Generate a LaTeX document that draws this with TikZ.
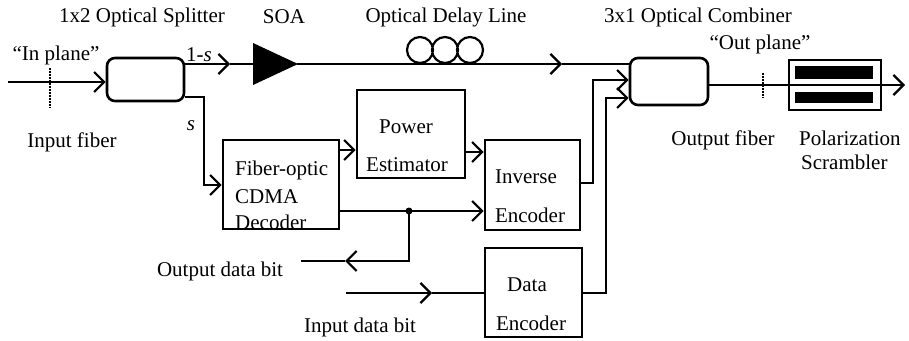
\documentclass[tikz,border=0pt]{standalone}
\usepackage{fontspec}
\setmainfont{Liberation Serif}
\usetikzlibrary{arrows.meta}
\newcommand{\fsz}{\fontsize{21}{24}\selectfont}
\tikzset{
  ln/.style={line width=2.6pt},
  arr/.style={ln, -{Straight Barb[length=10pt,width=20pt,line width=2.2pt]}},
  box/.style={draw, line width=2.6pt, inner sep=0pt},
  rbox/.style={box, rounded corners=8pt},
  lbl/.style={inner sep=0pt, font=\fsz},
  dots/.style={line width=2.2pt, dash pattern=on 1.5pt off 1.5pt},
}
\begin{document}
\begin{tikzpicture}[x=1pt,y=-1pt]
\useasboundingbox (0,0) rectangle (909,340);
% boxes
\node[rbox, minimum width=77pt, minimum height=43pt] (spl) at (145.5,79.5) {};
\node[rbox, minimum width=78pt, minimum height=47pt] (comb) at (669,81.5) {};
\node[box, minimum width=116pt, minimum height=89pt] (dec) at (281,184.5) {};
\node[box, minimum width=108pt, minimum height=88pt] (pw) at (411,134) {};
\node[box, minimum width=95pt, minimum height=90pt] (inv) at (532.5,185) {};
\node[box, minimum width=97pt, minimum height=89pt] (den) at (533.5,292.5) {};
\node[box, minimum width=92pt, minimum height=50pt] (scr) at (835,85) {};
% scrambler bars
\fill (795,66) rectangle (873,79);
\fill (795,92) rectangle (873,103);
% SOA
\fill (253,43) -- (253,85) -- (298,64) -- cycle;
\coordinate (soaIn) at (253,64);
\coordinate (soaOut) at (297,64);
% delay line coils
\draw[line width=2.2pt] (420,50) circle (13) (445,50) circle (13) (470,50) circle (13);
% coordinates
\coordinate (inStart) at (8,82);
\coordinate (m1) at (230,64);
\coordinate (m2) at (562,64);
\coordinate (dotp) at (409,211);
\coordinate (odEnd) at (301,261);
\coordinate (odArr) at (345,261);
\coordinate (idStart) at (346,293);
\coordinate (idArr) at (432,293);
\coordinate (outEnd) at (905,85);
% connectors
\draw[arr] (inStart) -- (spl.west |- inStart);
\draw[arr] (spl.east |- m1) -- (m1);
\draw[ln] (m1) -- (soaIn);
\draw[arr] (soaOut) -- (m2);
\draw[ln] (m2) -- (comb.west |- m2);
\draw[arr] (spl.east |- 0,97) -- (204,97) -- (204,185) -- (dec.west |- 0,185);
\draw[arr] (dec.east |- 0,150) -- (pw.west |- 0,150);
\draw[arr] (pw.east |- 0,152) -- (inv.west |- 0,152);
\draw[arr] (dec.east |- dotp) -- (inv.west |- dotp);
\fill (dotp) circle (3.5);
\draw[arr] (dotp) -- (dotp |- odArr) -- (odArr);
\draw[ln] (odArr) -- (odEnd);
\draw[arr] (idStart) -- (idArr);
\draw[ln] (idArr) -- (den.west |- idArr);
\draw[arr] (inv.east |- 0,183) -- (593,183) -- (593,80) -- (comb.west |- 0,80);
\draw[arr] (den.east |- 0,293) -- (606,293) -- (606,98) -- (comb.west |- 0,98);
\draw[arr] (comb.east |- outEnd) -- (outEnd);
% reference planes
\draw[dots] (50,68) -- (50,108);
\draw[dots] (763,73) -- (763,98);
% labels
\node[lbl] (t1) at (142,17) {1x2 Optical Splitter};
\node[lbl] (t2) at (284,17) {SOA};
\node[lbl] (t3) at (446,17) {Optical Delay Line};
\node[lbl] (t4) at (698,17) {3x1 Optical Combiner};
\node[lbl] (t5) at (56,55) {``In plane''};
\node[lbl] (t6) at (760,44) {``Out plane''};
\node[lbl] (t7) at (72,142) {Input fiber};
\node[lbl] (t8) at (199,55) {1-\textit{s}};
\node[lbl] (t9) at (191,126) {\textit{s}};
\node[lbl] (t10) at (723,140) {Output fiber};
\node[lbl, anchor=west] (t11) at (799,138) {Polarization};
\node[lbl, anchor=west] (t12) at (801,162) {Scrambler};
\node[lbl] (t13) at (220,271) {Output data bit};
\node[lbl] (t14) at (360,327) {Input data bit};
\node[lbl, anchor=west] (d1) at (235,170) {Fiber-optic};
\node[lbl, anchor=west] (d2) at (235,197) {CDMA};
\node[lbl, anchor=west] (d3) at (235,222) {Decoder};
\node[lbl] (p1) at (406,127) {Power};
\node[lbl] (p2) at (407,165) {Estimator};
\node[lbl] (i1) at (526,177) {Inverse};
\node[lbl] (i2) at (530,215) {Encoder};
\node[lbl] (e1) at (527,285) {Data};
\node[lbl] (e2) at (531,323) {Encoder};
\end{tikzpicture}
\end{document}
